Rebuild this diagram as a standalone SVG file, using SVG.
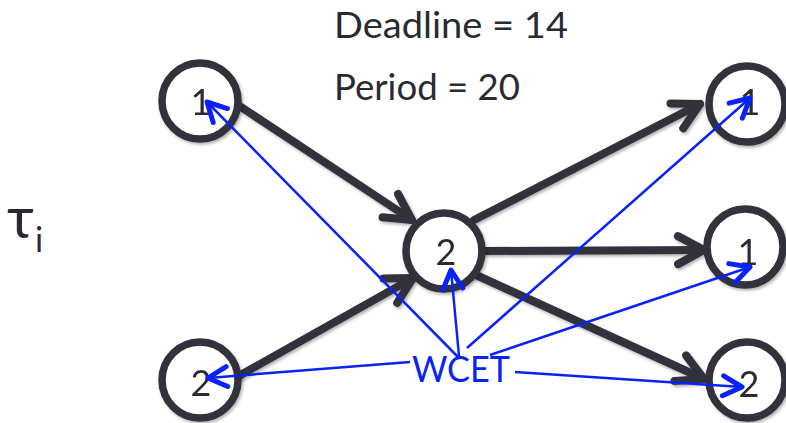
<svg xmlns="http://www.w3.org/2000/svg" width="786" height="423" viewBox="0 0 786 423">
<style>
.node circle{fill:#fff;stroke:#33333e;stroke-width:7.5}
.num{font-family:"Lato","Liberation Sans",sans-serif;font-size:36px;fill:#2a2a33;text-anchor:middle}
.lbl{font-family:"Lato","Liberation Sans",sans-serif;font-size:36px;fill:#2a2a33}
.edge{stroke:#33333e;stroke-width:8;stroke-linecap:round;fill:none}
.wcet{stroke:#0a22fa;stroke-width:2.5;fill:none}
</style>
<defs>
<filter id="sh" x="-20%" y="-20%" width="140%" height="140%">
<feDropShadow dx="1.5" dy="2" stdDeviation="1.8" flood-color="#000" flood-opacity="0.3"/>
</filter>
<marker id="ad" markerUnits="userSpaceOnUse" orient="auto" markerWidth="40" markerHeight="40" viewBox="-34 -20 40 40" refX="0" refY="0" overflow="visible">
<path d="M-26,-14 L0,0 L-26,14" fill="none" stroke="#33333e" stroke-width="8" stroke-linecap="round" stroke-linejoin="round"/>
</marker>
<marker id="ab" markerUnits="userSpaceOnUse" orient="auto" markerWidth="30" markerHeight="30" viewBox="-25 -15 30 30" refX="0" refY="0" overflow="visible">
<path d="M-19,-10 L0,0 L-19,10" fill="none" stroke="#0a22fa" stroke-width="5" stroke-linecap="round" stroke-linejoin="round"/>
</marker>
</defs>
<rect width="786" height="423" fill="#fff"/>
<g id="labels">
<text class="lbl" x="334" y="38" textLength="234" lengthAdjust="spacingAndGlyphs">Deadline = 14</text>
<text class="lbl" x="334" y="100" textLength="186" lengthAdjust="spacingAndGlyphs">Period = 20</text>
<text x="7" y="238" font-family="Lato,'Liberation Sans',sans-serif" font-size="58" fill="#2a2a33">τ</text>
<text x="35" y="252" font-family="Lato,'Liberation Sans',sans-serif" font-size="34" fill="#2a2a33">i</text>
</g>
<g id="connectors" filter="url(#sh)">
<line class="edge" x1="238" y1="105" x2="412" y2="220" marker-end="url(#ad)"/>
<line class="edge" x1="474" y1="220" x2="700" y2="104" marker-end="url(#ad)"/>
<line class="edge" x1="485" y1="251" x2="704" y2="250" marker-end="url(#ad)"/>
<line class="edge" x1="476" y1="275" x2="704" y2="379" marker-end="url(#ad)"/>
<line class="edge" x1="237" y1="377" x2="413" y2="278" marker-end="url(#ad)"/>
</g>
<g id="n1" class="node" filter="url(#sh)"><circle cx="200" cy="101" r="38"/><text class="num" x="201" y="115">1</text></g>
<g id="n2" class="node" filter="url(#sh)"><circle cx="200" cy="380" r="38"/><text class="num" x="201" y="396">2</text></g>
<g id="n3" class="node" filter="url(#sh)"><circle cx="444" cy="251" r="38"/><text class="num" x="446" y="265">2</text></g>
<g id="n4" class="node" filter="url(#sh)"><circle cx="747" cy="104" r="38"/><text class="num" x="750" y="115">1</text></g>
<g id="n5" class="node" filter="url(#sh)"><circle cx="745" cy="247" r="38"/><text class="num" x="748" y="265">1</text></g>
<g id="n6" class="node" filter="url(#sh)"><circle cx="747" cy="380" r="38"/><text class="num" x="749" y="397">2</text></g>
<g id="wcet-links">
<line class="wcet" x1="459" y1="358" x2="207" y2="102" marker-end="url(#ab)"/>
<line class="wcet" x1="459" y1="356" x2="451" y2="270" marker-end="url(#ab)"/>
<line class="wcet" x1="467" y1="348" x2="750" y2="98" marker-end="url(#ab)"/>
<line class="wcet" x1="490" y1="355" x2="750" y2="267" marker-end="url(#ab)"/>
<line class="wcet" x1="515" y1="372" x2="742" y2="387" marker-end="url(#ab)"/>
<line class="wcet" x1="410" y1="362" x2="208" y2="378" marker-end="url(#ab)"/>
</g>
<g id="wcet">
<text x="412" y="382" font-family="Lato,'Liberation Sans',sans-serif" font-size="36" fill="#0a22fa" textLength="98" lengthAdjust="spacingAndGlyphs">WCET</text>
</g>
</svg>
